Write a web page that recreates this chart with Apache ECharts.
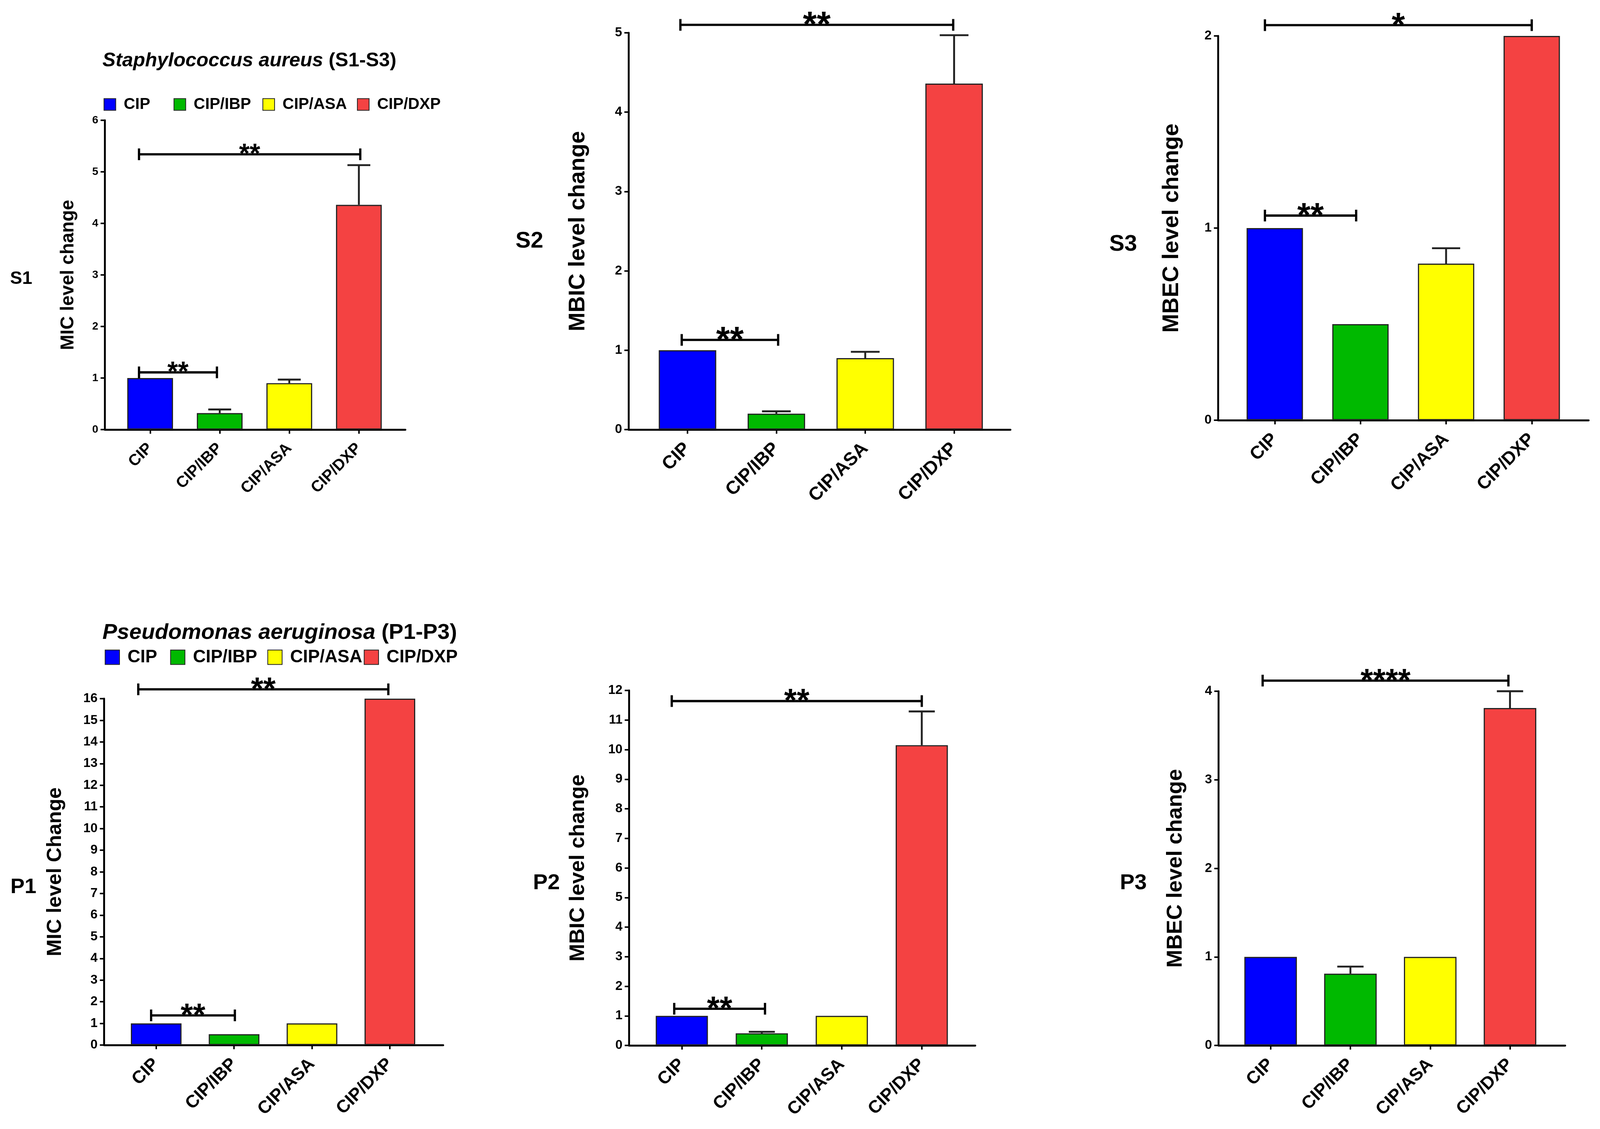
<!DOCTYPE html>
<html>
<head>
<meta charset="utf-8">
<script src="https://cdn.jsdelivr.net/npm/echarts@6/dist/echarts.min.js"></script>
<style>
  html, body { margin: 0; padding: 0; background: #fff; overflow: hidden; }
  #container { width: 100vw; height: 100vh; }
</style>
</head>
<body>
<div id="container"></div>
<script>
// ---- data ----
var categories = ['CIP', 'CIP/IBP', 'CIP/ASA', 'CIP/DXP'];
var barColors = ['#0000FF', '#00B900', '#FFFF00', '#F44242'];

var s1Values = [1.00, 0.32, 0.90, 4.36];
var s1ErrTop = [null, 0.39, 0.97, 5.13];
var s1Ticks = [0, 1, 2, 3, 4, 5, 6];
var s1Brackets = [[-0.16, 3.02, 5.34], [-0.16, 0.96, 1.11]];
var s1Stars = ['**', '**'];

var s2Values = [1.00, 0.20, 0.90, 4.36];
var s2ErrTop = [null, 0.23, 0.98, 4.97];
var s2Ticks = [0, 1, 2, 3, 4, 5];
var s2Brackets = [[-0.08, 2.99, 5.10], [-0.065, 1.02, 1.13]];
var s2Stars = ['**', '**'];

var s3Values = [1.00, 0.50, 0.815, 2.00];
var s3ErrTop = [null, null, 0.895, null];
var s3Ticks = [0, 1, 2];
var s3Brackets = [[-0.115, 3.0, 2.056], [-0.115, 0.95, 1.065]];
var s3Stars = ['*', '**'];

var p1Values = [1.00, 0.50, 1.00, 16.00];
var p1ErrTop = [null, null, null, null];
var p1Ticks = [0, 1, 2, 3, 4, 5, 6, 7, 8, 9, 10, 11, 12, 13, 14, 15, 16];
var p1Brackets = [[-0.23, 2.98, 16.43], [-0.065, 1.01, 1.37]];
var p1Stars = ['**', '**'];

var p2Values = [1.00, 0.41, 1.00, 10.15];
var p2ErrTop = [null, 0.46, null, 11.29];
var p2Ticks = [0, 1, 2, 3, 4, 5, 6, 7, 8, 9, 10, 11, 12];
var p2Brackets = [[-0.126, 3.0, 11.64], [-0.095, 1.04, 1.24]];
var p2Stars = ['**', '**'];

var p3Values = [1.00, 0.81, 1.00, 3.81];
var p3ErrTop = [null, 0.89, null, 4.00];
var p3Ticks = [0, 1, 2, 3, 4];
var p3Brackets = [[-0.10, 2.98, 4.12]];
var p3Stars = ['****'];

// ---- layout, in pixels of the 4231x2891 figure ----
var FONT = '"Liberation Sans", Arial, sans-serif';
var panels = [
  {label: 'S1', yName: 'MIC level change', values: s1Values, err: s1ErrTop, ticks: s1Ticks, brackets: s1Brackets, stars: s1Stars,
   L: {left: 277, right: 1072, top: 308, bottom: 1100, c0: 397, sp: 184, barW: 121, tickFont: 29, nameFont: 49, nameGap: 72, xFont: 42, starFont: 72, lx: 56, ly: 714, lf: 48}},
  {label: 'S2', yName: 'MBIC level change', values: s2Values, err: s2ErrTop, ticks: s2Ticks, brackets: s2Brackets, stars: s2Stars,
   L: {left: 1662, right: 2672, top: 84, bottom: 1100, c0: 1818, sp: 235, barW: 152, tickFont: 34, nameFont: 60, nameGap: 103, xFont: 49, starFont: 94, lx: 1400, ly: 618, lf: 60}},
  {label: 'S3', yName: 'MBEC level change', values: s3Values, err: s3ErrTop, ticks: s3Ticks, brackets: s3Brackets, stars: s3Stars,
   L: {left: 3221, right: 4201, top: 92, bottom: 1076, c0: 3371, sp: 226.5, barW: 149, tickFont: 34, nameFont: 60, nameGap: 92, xFont: 48, starFont: 90, lx: 2970, ly: 626, lf: 60}},
  {label: 'P1', yName: 'MIC level Change', values: p1Values, err: p1ErrTop, ticks: p1Ticks, brackets: p1Brackets, stars: p1Stars,
   L: {left: 275, right: 1172, top: 1789, bottom: 2676, c0: 413, sp: 206, barW: 134, tickFont: 34, nameFont: 54, nameGap: 102, xFont: 47, starFont: 84, lx: 62, ly: 2272, lf: 56}},
  {label: 'P2', yName: 'MBIC level change', values: p2Values, err: p2ErrTop, ticks: p2Ticks, brackets: p2Brackets, stars: p2Stars,
   L: {left: 1663, right: 2579, top: 1768, bottom: 2677, c0: 1803, sp: 211.5, barW: 138, tickFont: 34, nameFont: 56, nameGap: 106, xFont: 47, starFont: 86, lx: 1445, ly: 2262, lf: 58}},
  {label: 'P3', yName: 'MBEC level change', values: p3Values, err: p3ErrTop, ticks: p3Ticks, brackets: p3Brackets, stars: p3Stars,
   L: {left: 3222, right: 4139, top: 1770, bottom: 2677, c0: 3360, sp: 211, barW: 139, tickFont: 34, nameFont: 57, nameGap: 85, xFont: 47, starFont: 85, lx: 2997, ly: 2262, lf: 58}}
];

// the viewport may be smaller than the figure in CSS pixels: scale everything to it
var SX = window.innerWidth / 4231, SY = window.innerHeight / 2891, S = Math.min(SX, SY);
function X(v) { return v * SX; }
function Y(v) { return v * SY; }
function Z(v) { return v * S; }

var myChart = echarts.init(document.getElementById('container'));

var grids = [], xAxes = [], yAxes = [], series = [], graphics = [];
var catIdx = [0, 1, 2, 3];

panels.forEach(function (p, k) {
  var L = p.L;
  grids.push({left: X(L.left), top: Y(L.top), width: X(L.right - L.left), height: Y(L.bottom - L.top), containLabel: false});
  xAxes.push({
    type: 'value', gridIndex: k,
    min: (L.left - L.c0) / L.sp, max: (L.right - L.c0) / L.sp,
    splitLine: {show: false},
    axisLine: {show: true, lineStyle: {color: '#000', width: Z(5)}},
    axisTick: {show: true, customValues: catIdx, length: Z(11), lineStyle: {color: '#000', width: Z(4)}},
    axisLabel: {
      show: true, customValues: catIdx, rotate: 45, margin: Z(43),
      fontSize: Z(L.xFont), fontWeight: 'bold', fontFamily: FONT, color: '#000',
      formatter: function (v) { return categories[Math.round(v)]; }
    }
  });
  yAxes.push({
    type: 'value', gridIndex: k,
    min: p.ticks[0], max: p.ticks[p.ticks.length - 1], interval: p.ticks[1] - p.ticks[0],
    splitLine: {show: false},
    axisLine: {show: true, onZero: false, lineStyle: {color: '#000', width: Z(5)}},
    axisTick: {show: true, length: Z(11), lineStyle: {color: '#000', width: Z(4)}},
    axisLabel: {fontSize: Z(L.tickFont), fontWeight: 'bold', fontFamily: FONT, color: '#000', margin: Z(17)},
    name: p.yName, nameLocation: 'middle', nameRotate: 90, nameGap: Z(L.nameGap),
    nameTextStyle: {fontSize: Z(L.nameFont), fontWeight: 'bold', fontFamily: FONT, color: '#000'}
  });

  // one bar series per treatment so the legend can name them
  categories.forEach(function (c, i) {
    series.push({
      type: 'bar', name: c, xAxisIndex: k, yAxisIndex: k,
      data: [[i, p.values[i]]],
      barWidth: X(L.barW), barGap: '-100%',
      itemStyle: {color: barColors[i], borderColor: '#222', borderWidth: Z(3)},
      z: 2
    });
  });

  // error bars (upper only)
  var errData = [];
  p.err.forEach(function (e, i) { if (e != null) errData.push([i, p.values[i], e]); });
  series.push({
    type: 'custom', xAxisIndex: k, yAxisIndex: k, z: 3,
    encode: {x: 0, y: [1, 2]},
    data: errData,
    renderItem: function (params, api) {
      var a = api.coord([api.value(0), api.value(1)]);
      var b = api.coord([api.value(0), api.value(2)]);
      var half = X(L.barW) / 4;
      var st = {stroke: '#222', lineWidth: Z(5)};
      return {type: 'group', children: [
        {type: 'line', shape: {x1: a[0], y1: a[1], x2: b[0], y2: b[1]}, style: st},
        {type: 'line', shape: {x1: b[0] - half, y1: b[1], x2: b[0] + half, y2: b[1]}, style: st}
      ]};
    }
  });

  // significance brackets
  series.push({
    type: 'custom', xAxisIndex: k, yAxisIndex: k, z: 4, clip: false,
    encode: {x: [0, 1], y: 2},
    data: p.brackets,
    renderItem: function (params, api) {
      var y = api.value(2);
      var a = api.coord([api.value(0), y]);
      var b = api.coord([api.value(1), y]);
      var st = {stroke: '#000', lineWidth: Z(6)};
      var fs = Z(L.starFont), t = Y(15);
      return {type: 'group', children: [
        {type: 'line', shape: {x1: a[0], y1: a[1], x2: b[0], y2: b[1]}, style: st},
        {type: 'line', shape: {x1: a[0], y1: a[1] - t, x2: a[0], y2: a[1] + t}, style: st},
        {type: 'line', shape: {x1: b[0], y1: b[1] - t, x2: b[0], y2: b[1] + t}, style: st},
        {type: 'text', x: (a[0] + b[0]) / 2, y: a[1] + 0.08 * fs - Z(3),
         style: {text: p.stars[params.dataIndex], fontSize: fs, fontWeight: 'bold', fontFamily: FONT, fill: '#000',
                 align: 'center', verticalAlign: 'middle', textAlign: 'center', textVerticalAlign: 'middle'}}
      ]};
    }
  });

  graphics.push({
    type: 'text', x: X(L.lx), y: Y(L.ly),
    style: {text: p.label, fontSize: Z(L.lf), fontWeight: 'bold', fontFamily: FONT, fill: '#000',
            align: 'center', verticalAlign: 'middle', textAlign: 'center', textVerticalAlign: 'middle'}
  });
});

function legendItem(name, left, top, size, font) {
  return {
    data: [name], left: X(left), top: Y(top), padding: 0, icon: 'rect',
    itemWidth: Z(size), itemHeight: Z(size), selectedMode: false,
    textStyle: {fontSize: Z(font), fontWeight: 'bold', fontFamily: FONT, color: '#000', padding: [0, 0, 0, Z(16)]}
  };
}

function speciesTitle(text, left, top, font) {
  return {
    text: text, left: X(left), top: Y(top), padding: 0,
    textStyle: {fontSize: Z(font), fontWeight: 'bold', fontFamily: FONT, color: '#000',
                rich: {i: {fontSize: Z(font), fontWeight: 'bold', fontStyle: 'italic', fontFamily: FONT, color: '#000'}}}
  };
}

var option = {
  backgroundColor: '#fff',
  animation: false,
  title: [
    speciesTitle('{i|Staphylococcus aureus} (S1-S3)', 271, 131, 52),
    speciesTitle('{i|Pseudomonas aeruginosa} (P1-P3)', 271, 1593, 58)
  ],
  legend: [
    legendItem('CIP', 274, 247, 31, 42),
    legendItem('CIP/IBP', 459, 247, 31, 42),
    legendItem('CIP/ASA', 694, 247, 31, 42),
    legendItem('CIP/DXP', 944, 247, 31, 42),
    legendItem('CIP', 277, 1660, 38, 47),
    legendItem('CIP/IBP', 450, 1660, 38, 47),
    legendItem('CIP/ASA', 707, 1660, 38, 47),
    legendItem('CIP/DXP', 962, 1660, 38, 47)
  ],
  grid: grids,
  xAxis: xAxes,
  yAxis: yAxes,
  series: series,
  graphic: graphics
};
myChart.setOption(option);
</script>
</body>
</html>
